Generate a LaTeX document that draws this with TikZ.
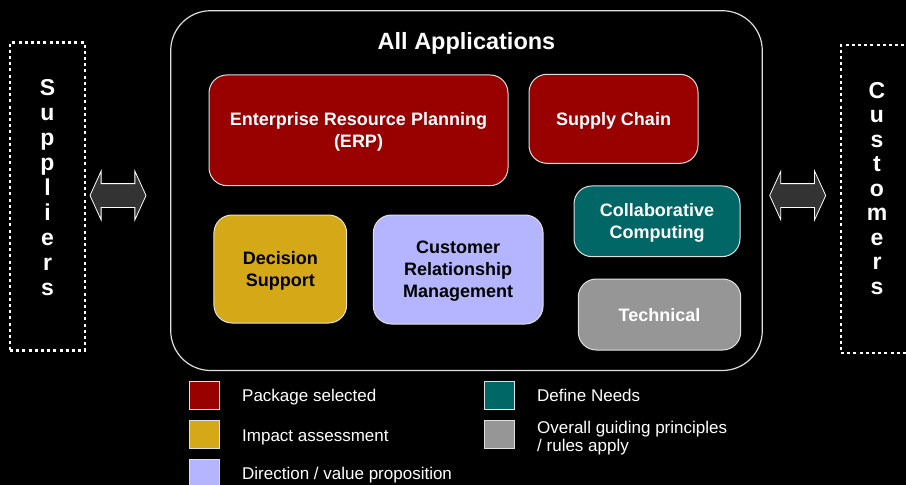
\documentclass[tikz,border=0pt]{standalone}
\usepackage{fontspec}
\setmainfont{Liberation Sans}
\usetikzlibrary{shapes.arrows}
\definecolor{pkgRed}{HTML}{990000}
\definecolor{needTeal}{HTML}{006666}
\definecolor{impactGold}{HTML}{D4A817}
\definecolor{paleLilac}{HTML}{B4B4FF}
\definecolor{ruleGrey}{HTML}{969696}
\definecolor{arrowGrey}{HTML}{333333}
\definecolor{edgeGrey}{HTML}{E0E0E0}

\begin{document}
\begin{tikzpicture}[x=1pt,y=-1pt,
    appbox/.style={draw=edgeGrey, line width=1pt, rounded corners=18pt, align=center, inner sep=0pt, text depth=0pt,
        font=\fontsize{18}{22}\selectfont\bfseries, text=white},
    keybox/.style={draw=edgeGrey, line width=1pt, minimum width=30pt, minimum height=28pt, inner sep=0pt},
    keytext/.style={anchor=base west, inner sep=0pt, text=white, font=\fontsize{17}{18}\selectfont},
    partybox/.style={draw=white, line width=2.5pt, dash pattern=on 3pt off 3.2pt, inner sep=0pt},
    letter/.style={anchor=base, text=white, font=\fontsize{23}{25}\selectfont\bfseries},
    flow/.style={double arrow, draw=white, fill=arrowGrey, line width=0.8pt, inner xsep=0pt, inner ysep=11.5pt,
        minimum height=56pt, double arrow head extend=12.5pt, double arrow tip angle=131}]
    \fill[black] (0,0) rectangle (906,485);
    \useasboundingbox (0,0) rectangle (906,485);

    % outside parties
    \node[partybox, minimum width=75pt, minimum height=308pt] (suppliers) at (47.5,196.7) {};
    \node[partybox, minimum width=73pt, minimum height=308pt] (customers) at (877.5,199) {};
    \foreach \ch [count=\i] in {S,u,p,p,l,i,e,r,s}
        \node[letter] (sup\i) at (47.5,{95+25*(\i-1)}) {\ch};
    \foreach \ch [count=\i] in {C,u,s,t,o,m,e,r,s}
        \node[letter] (cus\i) at (877,{98+24.5*(\i-1)}) {\ch};
    \node[flow] (inflow) at (118,195.5) {};
    \node[flow] (outflow) at (797.7,195.5) {};

    % applications
    \node[draw=edgeGrey, line width=1.2pt, rounded corners=40pt, minimum width=591.6pt, minimum height=359.8pt] (apps) at (466.5,190.6) {};
    \node[anchor=base, text=white, font=\fontsize{23.5}{26}\selectfont\bfseries] (title) at (466.5,49) {All Applications};
    \node[appbox, fill=pkgRed, minimum width=299pt, minimum height=110.7pt] (erp) at (358.5,130.3) {Enterprise Resource Planning\\(ERP)};
    \node[appbox, fill=pkgRed, minimum width=169pt, minimum height=89pt] (chain) at (613.5,118.8) {Supply Chain};
    \node[appbox, fill=needTeal, minimum width=166pt, minimum height=70.7pt] (collab) at (657,221.3) {Collaborative\\Computing};
    \node[appbox, fill=ruleGrey, minimum width=162.4pt, minimum height=71pt] (tech) at (659.5,314.5) {Technical};
    \node[appbox, fill=impactGold, text=black, minimum width=132.7pt, minimum height=108pt] (decision) at (280.3,269) {Decision\\Support};
    \node[appbox, fill=paleLilac, text=black, minimum width=169.7pt, minimum height=109pt] (crm) at (458.2,269.5) {Customer\\Relationship\\Management};

    % legend
    \node[keybox, fill=pkgRed] (keypkg) at (204.5,395.5) {};
    \node[keybox, fill=impactGold] (keyimpact) at (204.5,434.5) {};
    \node[keybox, fill=paleLilac] (keydir) at (204.5,473.5) {};
    \node[keybox, fill=needTeal] (keyneed) at (499.5,395.5) {};
    \node[keybox, fill=ruleGrey] (keyrule) at (499.5,434.5) {};
    \node[keytext] (pkgtext) at (242,401.5) {Package selected};
    \node[keytext] (impacttext) at (242,441) {Impact assessment};
    \node[keytext] (dirtext) at (242,479) {Direction / value proposition};
    \node[keytext] (needtext) at (537,401.5) {Define Needs};
    \node[keytext, anchor=west, align=left] (ruletext) at (537,438) {Overall guiding principles\\/ rules apply};
\end{tikzpicture}
\end{document}
